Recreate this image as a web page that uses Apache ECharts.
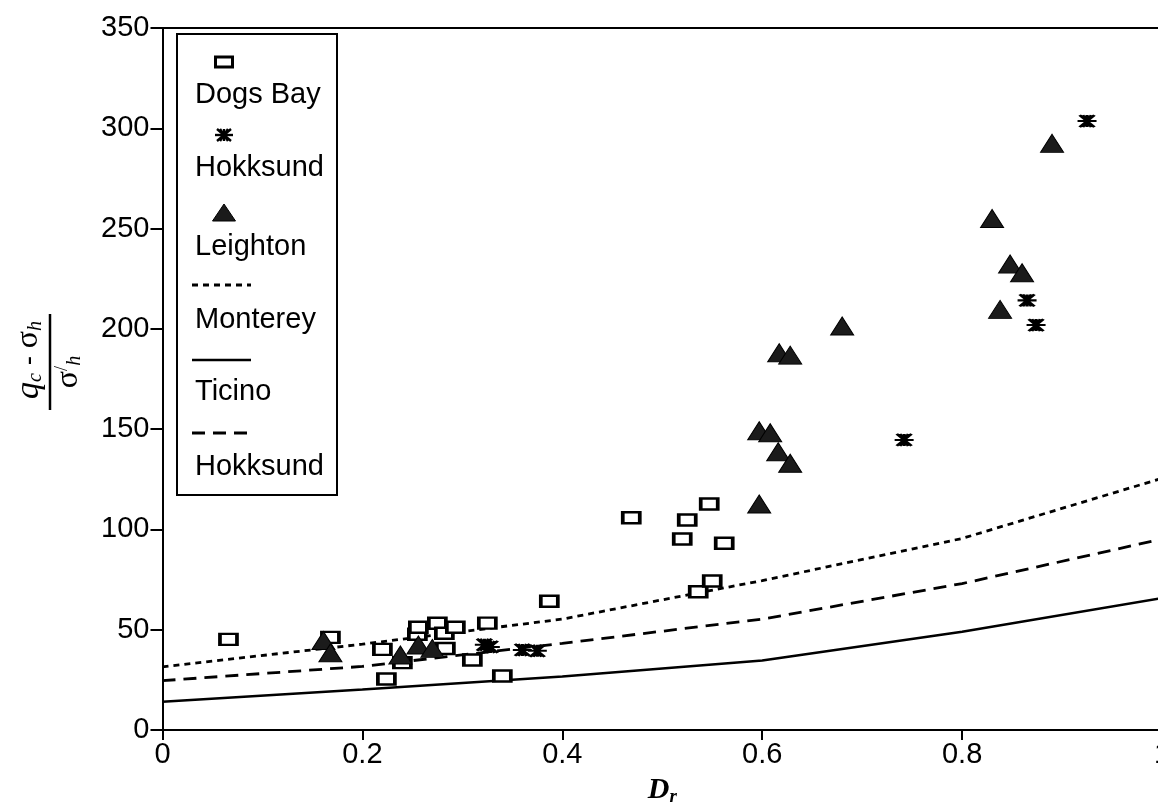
<!DOCTYPE html>
<html>
<head>
<meta charset="utf-8">
<script src="https://cdn.jsdelivr.net/npm/echarts@6/dist/echarts.min.js"></script>
<style>
  html, body { margin: 0; padding: 0; background: #fff; }
  #chart { width: 1158px; height: 805px; }
</style>
</head>
<body>
<div id="chart"></div>
<script>
// Relative density D_r against normalised cone resistance (qc - σh) / σ'h

// Axis ticks
const xTicks = [0, 0.2, 0.4, 0.6, 0.8, 1.0];
const xTickLabels = ['0', '0.2', '0.4', '0.6', '0.8', '1'];
const yTicks = [0, 50, 100, 150, 200, 250, 300, 350];

// Dogs Bay sand (open rectangles)
const dogsBayDr = [0.066, 0.168, 0.220, 0.224, 0.240, 0.255, 0.256, 0.275, 0.282, 0.283, 0.293,
                   0.310, 0.325, 0.340, 0.387, 0.469, 0.520, 0.525, 0.536, 0.547, 0.550, 0.562];
const dogsBayQ  = [45.2, 46.2, 40.2, 25.4, 33.6, 47.7, 51.2, 53.2, 48.2, 40.6, 51.2,
                   34.9, 53.3, 26.9, 64.2, 105.8, 95.2, 104.7, 68.9, 112.7, 74.3, 93.1];

// Hokksund sand (asterisks)
const hokksundDr = [0.322, 0.328, 0.360, 0.375, 0.742, 0.865, 0.874, 0.925];
const hokksundQ  = [42.5, 41.4, 39.9, 39.5, 144.6, 214.2, 201.9, 303.6];

// Leighton Buzzard sand (filled triangles)
const leightonDr = [0.161, 0.168, 0.238, 0.256, 0.270, 0.597, 0.597, 0.608, 0.616, 0.617,
                    0.628, 0.628, 0.680, 0.830, 0.838, 0.848, 0.860, 0.890];
const leightonQ  = [44.6, 38.5, 37.4, 42.4, 40.7, 112.7, 149.2, 148.2, 138.7, 188.1,
                    186.9, 133.0, 201.4, 255.0, 209.7, 232.3, 228.0, 292.5];

// Calibration curves
const curveDr     = [0, 0.2, 0.4, 0.6, 0.8, 1.0];
const montereyQ   = [31.5, 42.8, 55.3, 74.5, 95.5, 125.5];
const ticinoQ     = [14.1, 20.2, 26.7, 34.7, 49.0, 65.8];
const hokksundCQ  = [24.6, 31.7, 43.2, 55.3, 73.0, 95.2];

const zip = (xs, ys) => xs.map((x, i) => [x, ys[i]]);

const SANS = '"Liberation Sans", Arial, Helvetica, sans-serif';
const SERIF = '"Liberation Serif", "Times New Roman", serif';
const FS = 29;

const starPath = 'path://M0,6 L18,6 M9,0 L9,12 M2,0 L16,12 M2,12 L16,0 M5,0 L13,12 M5,12 L13,0';

// asterisk glyph for the legend, built from strokes
function starGlyph(cx, cy) {
  const segs = [[-9, 0, 9, 0], [0, -6, 0, 6], [-7, -6, 7, 6], [-7, 6, 7, -6], [-4, -6, 4, 6], [-4, 6, 4, -6]];
  return {
    type: 'group', x: cx, y: cy, z: 21,
    children: segs.map(s => ({
      type: 'line', z: 21,
      shape: { x1: s[0], y1: s[1], x2: s[2], y2: s[3] },
      style: { stroke: '#000', lineWidth: 2.4 }
    }))
  };
}

const chart = echarts.init(document.getElementById('chart'), null, { renderer: 'canvas' });

const legendX = 195;
const legendFont = FS + 'px ' + SANS;
const option = {
  backgroundColor: '#fff',
  animation: false,
  grid: { left: 162.5, right: -4, top: 28, bottom: 75, containLabel: false, outerBoundsMode: 'none' },
  xAxis: [{
    type: 'value', min: 0, max: 1, interval: 0.2,
    name: '{d|D}{r|r}',
    nameLocation: 'middle', nameGap: 44,
    nameTextStyle: {
      rich: {
        d: { fontFamily: SERIF, fontStyle: 'italic', fontWeight: 'bold', fontSize: 30, color: '#000' },
        r: { fontFamily: SERIF, fontStyle: 'italic', fontWeight: 'bold', fontSize: 19, color: '#000', verticalAlign: 'bottom', padding: [14, 0, 0, 0] }
      }
    },
    axisLine: { show: true, onZero: false, lineStyle: { color: '#000', width: 2 } },
    axisTick: { show: true, inside: false, length: 10, lineStyle: { color: '#000', width: 2 } },
    axisLabel: {
      color: '#000', fontFamily: SANS, fontSize: FS, margin: 10,
      formatter: v => { const i = xTicks.findIndex(t => Math.abs(t - v) < 1e-9); return i >= 0 ? xTickLabels[i] : ''; }
    },
    splitLine: { show: false }
  }, {
    // top frame line
    type: 'value', position: 'top', min: 0, max: 1,
    axisLine: { show: true, onZero: false, lineStyle: { color: '#000', width: 2 } },
    axisTick: { show: false }, axisLabel: { show: false }, splitLine: { show: false }
  }],
  yAxis: {
    type: 'value', min: yTicks[0], max: yTicks[yTicks.length - 1], interval: 50,
    axisLine: { show: true, onZero: false, lineStyle: { color: '#000', width: 2 } },
    axisTick: { show: true, inside: false, length: 12, lineStyle: { color: '#000', width: 2 } },
    axisLabel: { color: '#000', fontFamily: SANS, fontSize: FS, margin: 13 },
    splitLine: { show: false }
  },
  series: [
    {
      name: 'Monterey', type: 'line', data: zip(curveDr, montereyQ), showSymbol: false, z: 2,
      lineStyle: { color: '#000', width: 2.8, type: [6, 5] }
    },
    {
      name: 'Ticino', type: 'line', data: zip(curveDr, ticinoQ), showSymbol: false, z: 2,
      lineStyle: { color: '#000', width: 2.5, type: 'solid' }
    },
    {
      name: 'Hokksund curve', type: 'line', data: zip(curveDr, hokksundCQ), showSymbol: false, z: 2,
      lineStyle: { color: '#000', width: 2.8, type: [13, 8] }
    },
    {
      name: 'Dogs Bay', type: 'scatter', data: zip(dogsBayDr, dogsBayQ), z: 3,
      symbol: 'rect', symbolSize: [17, 11],
      itemStyle: { color: '#fff', borderColor: '#000', borderWidth: 3, opacity: 1 }
    },
    {
      name: 'Hokksund', type: 'scatter', data: zip(hokksundDr, hokksundQ), z: 4,
      symbol: starPath, symbolSize: [19, 12], symbolKeepAspect: false,
      itemStyle: { color: '#000', borderColor: '#000', borderWidth: 2.6, opacity: 1 }
    },
    {
      name: 'Leighton', type: 'scatter', data: zip(leightonDr, leightonQ), z: 5,
      symbol: 'triangle', symbolSize: [23, 18],
      itemStyle: { color: '#1b1b1b', borderColor: '#000', borderWidth: 1, opacity: 1 }
    }
  ],
  graphic: [
    // y-axis title: (qc - σh) / σ'h, rotated
    {
      type: 'group', x: 50, y: 362, rotation: Math.PI / 2, z: 10,
      children: [
        {
          type: 'text', x: 2, y: -4,
          style: {
            text: '{q|q}{s|c}{m| - }{g|σ}{s|h}',
            align: 'center', verticalAlign: 'bottom',
            rich: {
              q: { fontFamily: SERIF, fontStyle: 'italic', fontSize: 34, color: '#000' },
              g: { fontFamily: SERIF, fontSize: 32, color: '#000' },
              m: { fontFamily: SANS, fontSize: 28, color: '#000' },
              s: { fontFamily: SERIF, fontStyle: 'italic', fontSize: 20, color: '#000', verticalAlign: 'bottom', padding: [12, 0, 0, 0] }
            }
          }
        },
        { type: 'line', shape: { x1: -48, y1: 0, x2: 48, y2: 0 }, style: { stroke: '#000', lineWidth: 2.5 } },
        {
          type: 'text', x: -10, y: 3,
          style: {
            text: '{g|σ}{p|/}{s|h}',
            align: 'center', verticalAlign: 'top',
            rich: {
              g: { fontFamily: SERIF, fontSize: 32, color: '#000' },
              p: { fontFamily: SERIF, fontSize: 18, color: '#000', verticalAlign: 'top', padding: [0, 0, 12, 0] },
              s: { fontFamily: SERIF, fontStyle: 'italic', fontSize: 20, color: '#000', verticalAlign: 'bottom', padding: [12, 0, 0, 0] }
            }
          }
        }
      ]
    },
    // legend frame and entries
    { type: 'rect', z: 20, shape: { x: 177, y: 34, width: 160, height: 461 }, style: { fill: '#fff', stroke: '#000', lineWidth: 2 } },
    { type: 'rect', z: 21, shape: { x: 215.5, y: 57, width: 17, height: 10 }, style: { fill: '#fff', stroke: '#000', lineWidth: 3 } },
    { type: 'text', z: 21, x: legendX, y: 95, style: { text: 'Dogs Bay', font: legendFont, fill: '#000', verticalAlign: 'middle' } },
    starGlyph(224, 135),
    { type: 'text', z: 21, x: legendX, y: 168, style: { text: 'Hokksund', font: legendFont, fill: '#000', verticalAlign: 'middle' } },
    { type: 'polygon', z: 21, shape: { points: [[212.5, 221], [235.5, 221], [224, 204]] }, style: { fill: '#1b1b1b', stroke: '#000', lineWidth: 1 } },
    { type: 'text', z: 21, x: legendX, y: 247, style: { text: 'Leighton', font: legendFont, fill: '#000', verticalAlign: 'middle' } },
    { type: 'line', z: 21, shape: { x1: 192, y1: 285, x2: 251, y2: 285 }, style: { stroke: '#000', lineWidth: 2.8, lineDash: [6, 5] } },
    { type: 'text', z: 21, x: legendX, y: 320, style: { text: 'Monterey', font: legendFont, fill: '#000', verticalAlign: 'middle' } },
    { type: 'line', z: 21, shape: { x1: 192, y1: 360, x2: 251, y2: 360 }, style: { stroke: '#000', lineWidth: 2.5 } },
    { type: 'text', z: 21, x: legendX, y: 392, style: { text: 'Ticino', font: legendFont, fill: '#000', verticalAlign: 'middle' } },
    { type: 'line', z: 21, shape: { x1: 192, y1: 433, x2: 251, y2: 433 }, style: { stroke: '#000', lineWidth: 2.8, lineDash: [13, 8] } },
    { type: 'text', z: 21, x: legendX, y: 467, style: { text: 'Hokksund', font: legendFont, fill: '#000', verticalAlign: 'middle' } }
  ]
};

chart.setOption(option);
</script>
</body>
</html>
